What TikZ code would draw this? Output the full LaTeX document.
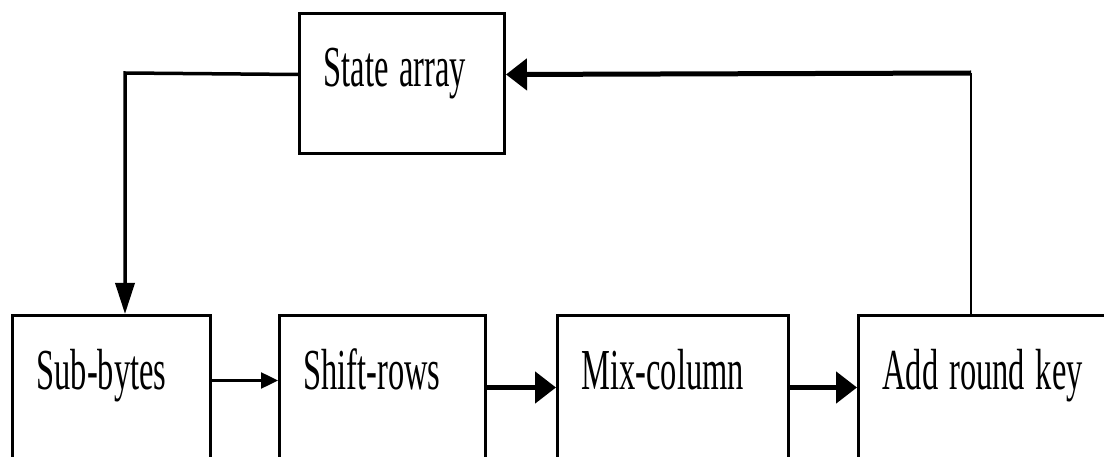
\documentclass[tikz,border=0pt]{standalone}
\usepackage{fontspec}
\usepackage{graphicx}
\setmainfont{Liberation Serif}
\newcommand{\condtxt}[1]{\scalebox{0.56}[1]{#1}}
\usetikzlibrary{arrows.meta}
\begin{document}
\begin{tikzpicture}[x=1pt,y=-1pt,
  blk/.style={draw, line width=3pt, anchor=north west, inner xsep=24pt, inner ysep=0pt,
    text height=74pt, text depth=89pt, align=left,
    font=\fontsize{58}{62}\selectfont},
  thinarrow/.style={line width=2.5pt, -{Triangle[length=17pt,width=16pt]}},
  thickarrow/.style={line width=5pt, -{Triangle[length=21pt,width=31pt]}},
  downarrow/.style={line width=3.5pt, -{Triangle[length=31pt,width=19pt]}},
  plainline/.style={line width=2pt}]
\useasboundingbox (0,0) rectangle (1104,457);
\clip (0,0) rectangle (1104,457);
\node[blk, text width=157pt, text height=73pt, text depth=67pt] (state) at (298,12) {\condtxt{State array}};
\node[blk, text width=150pt] (sub) at (11,314) {\condtxt{Sub-bytes}};
\node[blk, text width=158pt] (shift) at (278,314) {\condtxt{Shift-rows}};
\node[blk, text width=183pt] (mix) at (556,314) {\condtxt{Mix-column}};
\node[blk, text width=215pt] (add) at (857,314) {\condtxt{Add round key}};
\coordinate (ca) at (125,73);
\coordinate (cb) at (971,73);
\draw[downarrow] ([yshift=12pt]state.base west) -- (ca) -- (ca |- sub.north);
\draw[thinarrow] ([yshift=9pt]sub.base east) -- ([yshift=9pt]shift.base west);
\draw[thickarrow] ([yshift=2pt]shift.base east) -- ([yshift=2pt]mix.base west);
\draw[thickarrow] ([yshift=2pt]mix.base east) -- ([yshift=2pt]add.base west);
\draw[plainline] (cb |- add.north) -- (cb);
\draw[thickarrow] (cb) -- ([yshift=12pt]state.base east);
\end{tikzpicture}
\end{document}
